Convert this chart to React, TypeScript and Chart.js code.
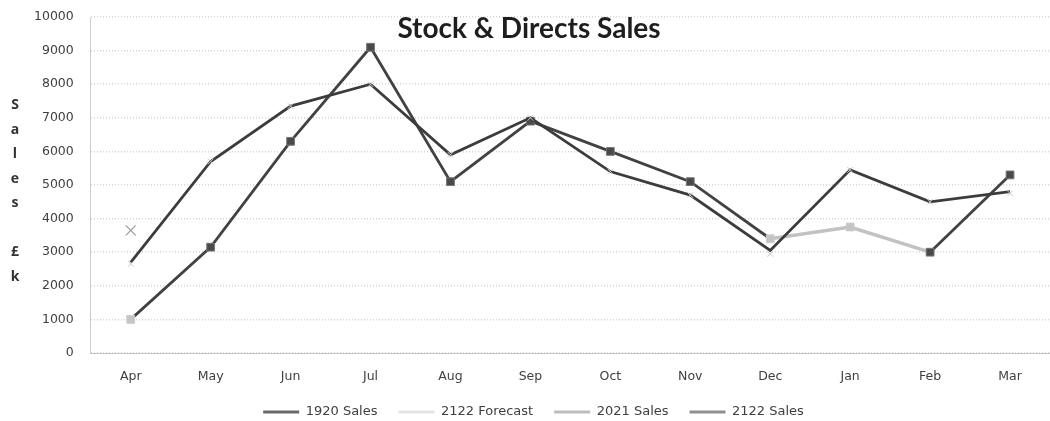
import React, { useEffect, useRef } from "react";
import { Chart, registerables } from "chart.js";

Chart.register(...registerables);

const months = ["Apr", "May", "Jun", "Jul", "Aug", "Sep", "Oct", "Nov", "Dec", "Jan", "Feb", "Mar"];
const sales1920 = [2700, 5700, 7350, 8000, 5900, 7000, 5400, 4700, 3050, 5450, 4500, 4800];
const forecast2122 = [2650, 5700, 7350, 8000, 5900, 7000, 5400, 4700, 2950, 5450, 4500, 4750];
const sales2021 = [1000, 3150, 6300, 9100, 5100, 6900, 6000, 5100, 3400, 3750, 3000, 5300];
const sales2122 = [3650, null, null, null, null, null, null, null, null, null, null, null];
const yTicks = [0, 1000, 2000, 3000, 4000, 5000, 6000, 7000, 8000, 9000, 10000];
const titleText = "Stock & Directs Sales";
const yTitleLetters = ["S", "a", "l", "e", "s", "", "£", "k"];

const lightIdx = [0, 8, 9];
const legendColors = ["#6a6a6a", "#e4e4e4", "#bdbdbd", "#8f8f8f"];

const overlayPlugin = {
  id: "overlay",
  afterDraw(chart: any) {
    const { ctx, chartArea } = chart;
    ctx.save();
    ctx.fillStyle = "#1e1e1e";
    ctx.font = "bold 28px Lato";
    ctx.textAlign = "center";
    ctx.textBaseline = "alphabetic";
    ctx.fillText(titleText, 529, chartArea.top + 21);
    ctx.font = "bold 14px 'Open Sans'";
    ctx.fillStyle = "#333333";
    ctx.textBaseline = "middle";
    const mid = (chartArea.top + chartArea.bottom) / 2 + 6;
    const step = 24.5;
    const n = yTitleLetters.length;
    yTitleLetters.forEach((l, i) => {
      ctx.fillText(l, 15, mid + (i - (n - 1) / 2) * step);
    });
    ctx.restore();
  },
};

export default function App() {
  const ref = useRef<HTMLCanvasElement>(null);
  useEffect(() => {
    if (!ref.current) return;
    const tickFont = { family: "'DejaVu Sans'", size: 12.5 };
    const chart = new Chart(ref.current, {
      type: "line",
      data: {
        labels: months,
        datasets: [
          {
            label: "1920 Sales",
            data: sales1920,
            borderColor: "#3c3c3c",
            backgroundColor: "#555555",
            borderWidth: 2.8,
            pointRadius: 0,
            order: 2,
          },
          {
            label: "2122 Forecast",
            data: forecast2122,
            borderColor: "rgba(225,225,225,0)",
            backgroundColor: "#e6e6e6",
            borderWidth: 2,
            pointStyle: "crossRot",
            pointRadius: 4,
            pointBorderColor: "#c8c8c8",
            pointBorderWidth: 1,
            order: 1,
          },
          {
            label: "2021 Sales",
            data: sales2021,
            borderColor: "#424242",
            backgroundColor: "#c4c4c4",
            borderWidth: 2.8,
            pointStyle: "rect",
            pointRadius: 5.5,
            pointBackgroundColor: sales2021.map((_, i) => (lightIdx.includes(i) ? "#c4c4c4" : "#4a4a4a")),
            pointBorderColor: sales2021.map((_, i) => (lightIdx.includes(i) ? "#cccccc" : "#777777")),
            pointBorderWidth: 1,
            segment: {
              borderColor: (c: any) => (c.p0DataIndex === 8 || c.p0DataIndex === 9 ? "#c2c2c2" : undefined),
              borderWidth: (c: any) => (c.p0DataIndex === 8 || c.p0DataIndex === 9 ? 3.5 : undefined),
            },
            order: 3,
          },
          {
            label: "2122 Sales",
            data: sales2122,
            borderColor: "#9a9a9a",
            backgroundColor: "#9a9a9a",
            borderWidth: 2,
            pointStyle: "crossRot",
            pointRadius: 7,
            pointBorderColor: "#9a9a9a",
            pointBorderWidth: 1.2,
            spanGaps: false,
            order: 0,
          },
        ],
      },
      options: {
        animation: false,
        responsive: false,
        layout: { autoPadding: false, padding: { left: 17, right: 0, top: 17, bottom: -7.5 } },
        plugins: {
          title: { display: false },
          tooltip: { enabled: false },
          legend: {
            position: "bottom",
            labels: {
              boxWidth: 36,
              boxHeight: 3,
              padding: 21,
              color: "#404040",
              font: { family: "'DejaVu Sans'", size: 13 },
              sort: (a: any, b: any) => a.datasetIndex - b.datasetIndex,
              generateLabels: (ch: any) => {
                const items = (Chart.defaults.plugins.legend.labels as any).generateLabels(ch);
                items.forEach((it: any) => {
                  const c = legendColors[it.datasetIndex];
                  it.fillStyle = c;
                  it.strokeStyle = c;
                  it.lineWidth = 0;
                });
                return items;
              },
            },
          },
        },
        scales: {
          x: {
            offset: true,
            grid: { display: false, drawTicks: false },
            border: { display: true, color: "#c4c4c4" },
            ticks: { color: "#404040", font: tickFont, padding: 16.5, maxRotation: 0 },
            afterFit: (s: any) => {
              s.height = 31.5;
            },
          },
          y: {
            min: 0,
            max: 10000,
            afterBuildTicks: (s: any) => {
              s.ticks = yTicks.map((v) => ({ value: v }));
            },
            afterFit: (s: any) => {
              s.paddingTop = 0;
            },
            grid: { color: "#d6d6d6", lineWidth: 1.5, drawTicks: false },
            border: { display: true, color: "#cfcfcf", dash: [1, 2] },
            ticks: {
              color: "#404040",
              font: tickFont,
              padding: 17,
              callback: (v: any) => String(v),
            },
          },
        },
      },
      plugins: [overlayPlugin],
    });
    return () => chart.destroy();
  }, []);
  return (
    <div style={{ position: "absolute", left: 0, top: 0, width: 1050, height: 421, background: "#fff" }}>
      <canvas ref={ref} width={1050} height={421} />
    </div>
  );
}
